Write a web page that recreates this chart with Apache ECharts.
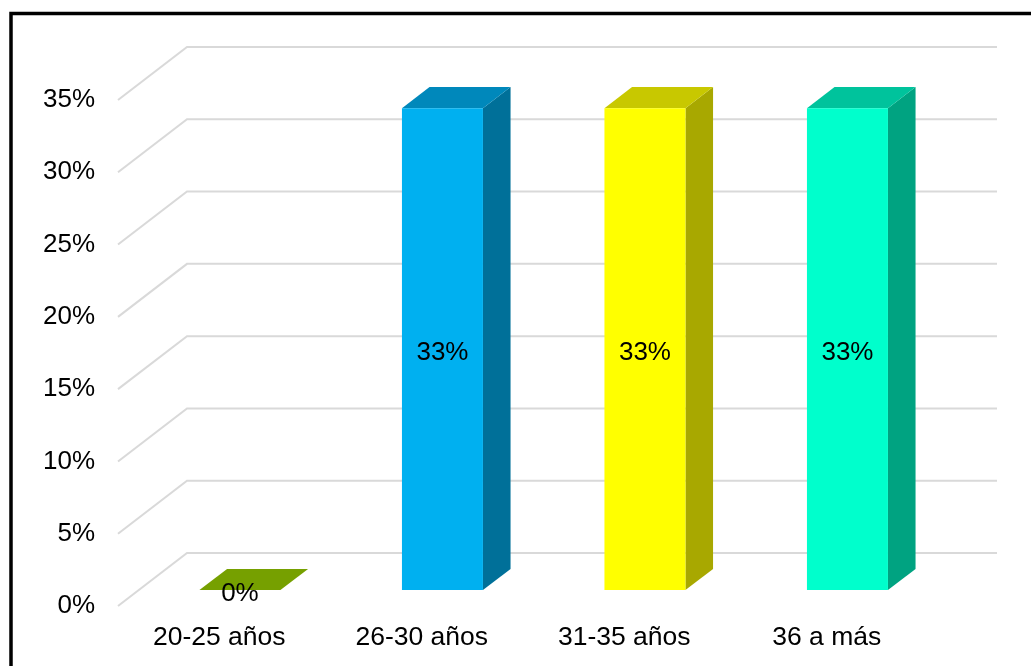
<!DOCTYPE html>
<html>
<head>
<meta charset="utf-8">
<script src="https://cdn.jsdelivr.net/npm/echarts@6/dist/echarts.min.js"></script>
<style>
  html, body { margin: 0; padding: 0; background: #fff; }
  #chart { width: 1031px; height: 666px; }
</style>
</head>
<body>
<div id="chart"></div>
<script>
// data
var categories = ['20-25 años', '26-30 años', '31-35 años', '36 a más'];
var values = [0, 33.33, 33.33, 33.33];
var barLabels = ['0%', '33%', '33%', '33%'];
var tickValues = [0, 5, 10, 15, 20, 25, 30, 35];

// colours of the 3d faces
var frontColors = ['#76A000', '#00B0F0', '#FFFF00', '#00FFCC'];
var topColors = ['#76A000', '#0088BB', '#C8C800', '#00C39C'];
var sideColors = ['#76A000', '#007099', '#A8A800', '#00A381'];

// depth of the floor (front plane -> back wall)
var DX = 69, DY = -53;
var FONT = '"Liberation Sans", Arial, sans-serif';

var chart = echarts.init(document.getElementById('chart'));

function gridItem(params, api) {
    var cs = params.coordSys;
    var y = api.coord([0, api.value(0)])[1];
    var x0 = cs.x, x1 = cs.x + cs.width;
    return {
        type: 'polyline',
        shape: { points: [[x0, y], [x0 + DX, y + DY], [x1 + DX, y + DY]] },
        style: { stroke: '#D9D9D9', lineWidth: 2, fill: null },
        silent: true
    };
}

function barItem(params, api) {
    var i = api.value(0);
    var v = api.value(1);
    var base = api.coord([i, 0]);
    var top = api.coord([i, v]);
    var half = api.size([1, 0])[0] * 0.2;
    var fx = DX * 0.3, fy = DY * 0.3;
    var bx = DX * 0.7, by = DY * 0.7;
    var xl = base[0] - half, xr = base[0] + half;
    var yb = base[1], yt = top[1];
    var children = [];
    // right side
    children.push({
        type: 'polygon',
        shape: { points: [[xr + fx, yt + fy], [xr + bx, yt + by], [xr + bx, yb + by], [xr + fx, yb + fy]] },
        style: { fill: sideColors[i] }
    });
    // top
    children.push({
        type: 'polygon',
        shape: { points: [[xl + fx, yt + fy], [xr + fx, yt + fy], [xr + bx, yt + by], [xl + bx, yt + by]] },
        style: { fill: topColors[i] }
    });
    // front
    if (v > 0) {
        children.push({
            type: 'rect',
            shape: { x: xl + fx, y: yt + fy, width: xr - xl, height: yb - yt },
            style: { fill: frontColors[i] }
        });
    }
    children.push({
        type: 'text',
        x: base[0] + fx,
        y: (yt + yb) / 2 + fy + 4,
        style: {
            text: barLabels[i], fill: '#000', font: '26px ' + FONT,
            align: 'center', verticalAlign: 'middle'
        },
        z2: 10
    });
    return { type: 'group', children: children };
}

var option = {
    animation: false,
    backgroundColor: '#fff',
    grid: { left: 118, right: 103, top: 100, bottom: 60 },
    xAxis: {
        type: 'category',
        data: categories,
        axisLine: { show: false },
        axisTick: { show: false },
        axisLabel: { color: '#000', fontSize: 26.5, fontFamily: FONT, margin: 18 }
    },
    yAxis: {
        type: 'value',
        min: 0, max: 35, interval: 5,
        axisLine: { show: false },
        axisTick: { show: false },
        splitLine: { show: false },
        axisLabel: { color: '#000', fontSize: 26, fontFamily: FONT, margin: 23, formatter: '{value}%' }
    },
    graphic: [{
        type: 'rect',
        shape: { x: 11, y: 13.5, width: 1100, height: 700 },
        style: { fill: null, stroke: '#000', lineWidth: 3.5 },
        z: 100
    }],
    series: [{
        type: 'custom',
        renderItem: gridItem,
        data: tickValues.map(function (t) { return [t]; }),
        encode: { y: 0 },
        z: 1
    }, {
        type: 'custom',
        renderItem: barItem,
        data: values.map(function (v, i) { return [i, v]; }),
        encode: { x: 0, y: 1 },
        z: 2
    }]
};

chart.setOption(option);
</script>
</body>
</html>
